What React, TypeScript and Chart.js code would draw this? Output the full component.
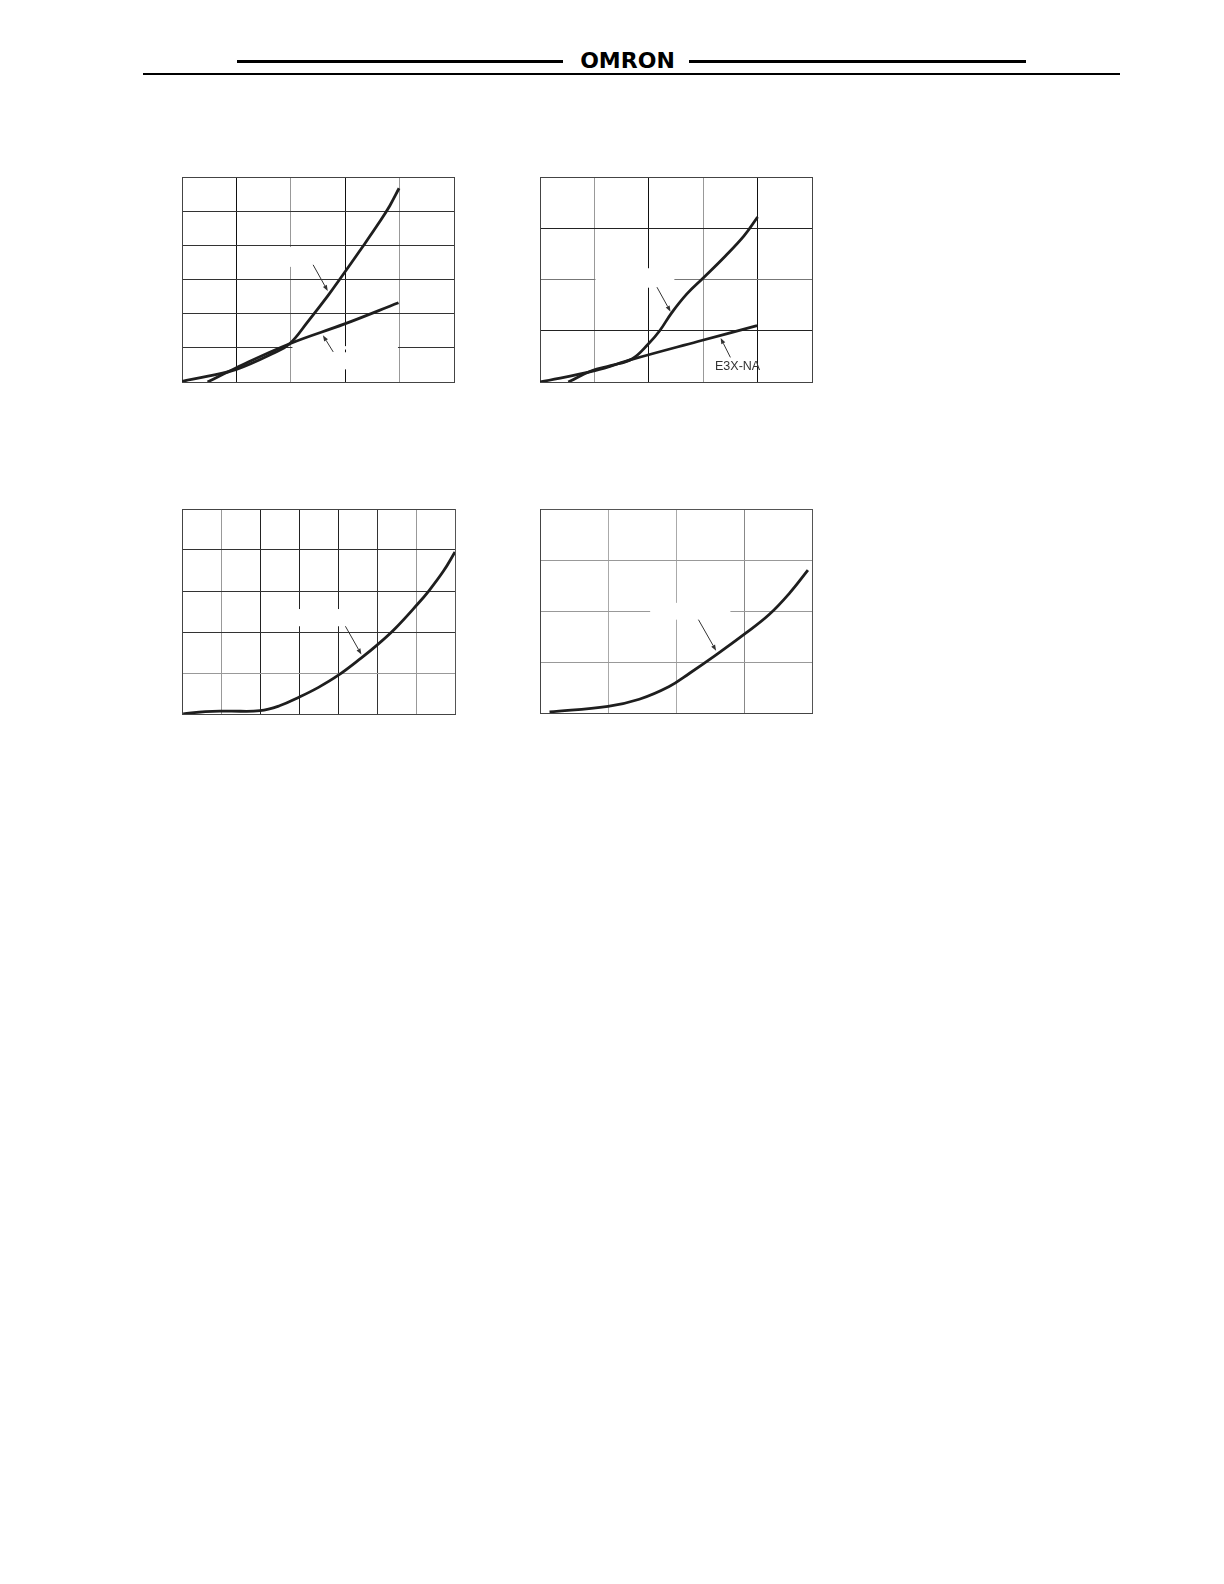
import React, { useEffect, useRef } from "react";
import { Chart, registerables } from "chart.js";
Chart.register(...registerables);

// ---------- Chart 1 (top-left) ----------
const c1XMax = 5;
const c1YMax = 6;
const c1CurveAX = [0, 0.48, 1.0, 1.7, 1.98, 2.31, 2.68, 2.91, 3.33, 3.63, 3.82, 3.99];
const c1CurveAY = [0.02, 0.17, 0.37, 0.86, 1.12, 1.76, 2.52, 3.03, 3.98, 4.68, 5.16, 5.67];
const c1CurveBX = [0.47, 1.0, 1.98, 2.99, 3.98];
const c1CurveBY = [0, 0.42, 1.12, 1.7, 2.32];
const c1VGrid = ["#444", "#111", "#999", "#111", "#999", "#444"];
const c1HGrid = ["#444", "#333", "#333", "#333", "#333", "#333", "#444"];
const c1Gaps = [
  [1.9, 2.1, 3.37, 3.95],
  [2.03, 3.97, 0.95, 1.05],
  [2.9, 3.1, 0.37, 0.87],
];
const c1Arrows = [
  [2.41, 3.43, 2.68, 2.66],
  [2.78, 0.88, 2.59, 1.37],
];

// ---------- Chart 2 (top-right) ----------
const c2XMax = 5;
const c2YMax = 4;
const c2CurveAX = [0.52, 0.95, 1.3, 1.69, 1.99, 2.2, 2.42, 2.7, 3.0, 3.4, 3.75, 4.0];
const c2CurveAY = [0, 0.22, 0.32, 0.45, 0.74, 1.0, 1.35, 1.72, 2.03, 2.45, 2.85, 3.22];
const c2CurveBX = [0, 1.01, 1.69, 2.9, 3.99];
const c2CurveBY = [0, 0.22, 0.44, 0.79, 1.1];
const c2VGrid = ["#444", "#999", "#111", "#999", "#111", "#444"];
const c2HGrid = ["#444", "#222", "#777", "#222", "#444"];
const c2Gaps = [[1.02, 2.47, 1.84, 2.22]];
const c2Arrows = [
  [2.15, 1.85, 2.4, 1.37],
  [3.5, 0.48, 3.32, 0.86],
];
const c2Label = "E3X-NA";

// ---------- Chart 3 (bottom-left) ----------
const c3XMax = 7;
const c3YMax = 5;
const c3CurveX = [0.03, 0.6, 1.2, 2.0, 2.5, 3.0, 3.5, 4.0, 4.6, 5.0, 5.46, 6.06, 6.31, 6.7, 7.0];
const c3CurveY = [0, 0.06, 0.07, 0.08, 0.2, 0.41, 0.65, 0.94, 1.37, 1.68, 2.08, 2.7, 2.98, 3.48, 3.95];
const c3VGrid = ["#444", "#999", "#222", "#222", "#222", "#333", "#999", "#555"];
const c3HGrid = ["#444", "#999", "#333", "#333", "#333", "#444"];
const c3Gaps = [[2.9, 4.1, 2.14, 2.56]];
const c3Arrows = [[4.19, 2.14, 4.6, 1.45]];

// ---------- Chart 4 (bottom-right) ----------
const c4XMax = 4;
const c4YMax = 4;
const c4CurveX = [0.14, 1.0, 1.46, 1.9, 2.2, 2.59, 3.03, 3.37, 3.67, 3.94];
const c4CurveY = [0.02, 0.13, 0.27, 0.52, 0.78, 1.14, 1.57, 1.93, 2.35, 2.8];
const c4VGrid = ["#555", "#aaa", "#aaa", "#888", "#555"];
const c4HGrid = ["#555", "#999", "#999", "#999", "#555"];
const c4Gaps = [[1.62, 2.8, 1.83, 2.16]];
const c4Arrows = [[2.33, 1.83, 2.59, 1.22]];

const PAD = 6;

type Box = { x: number; y: number; w: number; h: number };

function makeConfig(spec: any): any {
  const overlay = {
    id: "overlay",
    beforeDatasetsDraw(chart: any) {
      const { ctx, scales } = chart;
      const sx = scales.x;
      const sy = scales.y;
      ctx.save();
      ctx.fillStyle = "#ffffff";
      for (const g of spec.gaps) {
        const x0 = sx.getPixelForValue(g[0]);
        const x1 = sx.getPixelForValue(g[1]);
        const y0 = sy.getPixelForValue(g[3]);
        const y1 = sy.getPixelForValue(g[2]);
        ctx.fillRect(x0, y0, x1 - x0, y1 - y0);
      }
      ctx.restore();
    },
    afterDatasetsDraw(chart: any) {
      const { ctx, scales } = chart;
      const sx = scales.x;
      const sy = scales.y;
      ctx.save();
      ctx.strokeStyle = "#333";
      ctx.fillStyle = "#333";
      ctx.lineWidth = 1;
      for (const a of spec.arrows) {
        const x0 = sx.getPixelForValue(a[0]);
        const y0 = sy.getPixelForValue(a[1]);
        const x1 = sx.getPixelForValue(a[2]);
        const y1 = sy.getPixelForValue(a[3]);
        const ang = Math.atan2(y1 - y0, x1 - x0);
        const L = 6;
        const Wd = 2.2;
        const bx = x1 - L * Math.cos(ang);
        const by = y1 - L * Math.sin(ang);
        ctx.beginPath();
        ctx.moveTo(x0, y0);
        ctx.lineTo(bx, by);
        ctx.stroke();
        ctx.beginPath();
        ctx.moveTo(x1, y1);
        ctx.lineTo(bx + Wd * Math.sin(ang), by - Wd * Math.cos(ang));
        ctx.lineTo(bx - Wd * Math.sin(ang), by + Wd * Math.cos(ang));
        ctx.closePath();
        ctx.fill();
      }
      ctx.restore();
    },
  };

  return {
    type: "line",
    data: {
      datasets: spec.series.map((s: any) => ({
        data: s.xs.map((x: number, i: number) => ({ x, y: s.ys[i] })),
        borderColor: "#1e1e1e",
        borderWidth: 2.8,
        pointRadius: 0,
        fill: false,
        tension: 0.4,
      })),
    },
    options: {
      responsive: false,
      animation: false,
      devicePixelRatio: 1,
      layout: { padding: PAD },
      plugins: { legend: { display: false }, tooltip: { enabled: false } },
      scales: {
        x: {
          type: "linear",
          min: 0,
          max: spec.xMax,
          ticks: { display: false, stepSize: 1 },
          grid: {
            drawTicks: false,
            lineWidth: 1,
            color: (c: any) => spec.vGrid[c.index] || "#444",
          },
          border: { color: "#444", width: 1 },
        },
        y: {
          type: "linear",
          min: 0,
          max: spec.yMax,
          ticks: { display: false, stepSize: 1 },
          grid: {
            drawTicks: false,
            lineWidth: 1,
            color: (c: any) => spec.hGrid[c.index] || "#444",
          },
          border: { color: "#444", width: 1 },
        },
      },
    },
    plugins: [overlay],
  };
}

function PlotCanvas({ box, spec }: { box: Box; spec: any }) {
  const ref = useRef<HTMLCanvasElement>(null);
  useEffect(() => {
    const chart = new Chart(ref.current as HTMLCanvasElement, makeConfig(spec));
    return () => chart.destroy();
  }, []);
  const w = box.w + 2 * PAD;
  const h = box.h + 2 * PAD;
  return (
    <canvas
      ref={ref}
      width={w}
      height={h}
      style={{ position: "absolute", left: box.x - PAD, top: box.y - PAD, width: w, height: h }}
    />
  );
}

const spec1 = {
  xMax: c1XMax,
  yMax: c1YMax,
  series: [
    { xs: c1CurveAX, ys: c1CurveAY },
    { xs: c1CurveBX, ys: c1CurveBY },
  ],
  vGrid: c1VGrid,
  hGrid: c1HGrid,
  gaps: c1Gaps,
  arrows: c1Arrows,
};
const spec2 = {
  xMax: c2XMax,
  yMax: c2YMax,
  series: [
    { xs: c2CurveAX, ys: c2CurveAY },
    { xs: c2CurveBX, ys: c2CurveBY },
  ],
  vGrid: c2VGrid,
  hGrid: c2HGrid,
  gaps: c2Gaps,
  arrows: c2Arrows,
};
const spec3 = {
  xMax: c3XMax,
  yMax: c3YMax,
  series: [{ xs: c3CurveX, ys: c3CurveY }],
  vGrid: c3VGrid,
  hGrid: c3HGrid,
  gaps: c3Gaps,
  arrows: c3Arrows,
};
const spec4 = {
  xMax: c4XMax,
  yMax: c4YMax,
  series: [{ xs: c4CurveX, ys: c4CurveY }],
  vGrid: c4VGrid,
  hGrid: c4HGrid,
  gaps: c4Gaps,
  arrows: c4Arrows,
};

export default function App() {
  return (
    <div
      style={{
        position: "absolute",
        left: 0,
        top: 0,
        width: 1224,
        height: 1584,
        background: "#fff",
        overflow: "hidden",
      }}
    >
      {/* header */}
      <div style={{ position: "absolute", left: 237, top: 60, width: 326, height: 3, background: "#000" }} />
      <div style={{ position: "absolute", left: 689, top: 60, width: 337, height: 3, background: "#000" }} />
      <div style={{ position: "absolute", left: 143, top: 73, width: 977, height: 2, background: "#000" }} />
      <div
        style={{
          position: "absolute",
          left: 627.5,
          top: 50,
          transform: "translateX(-50%)",
          fontFamily: "'DejaVu Sans', sans-serif",
          fontWeight: 700,
          fontSize: 22,
          lineHeight: "22px",
          color: "#000",
          whiteSpace: "nowrap",
        }}
      >
        OMRON
      </div>

      <PlotCanvas box={{ x: 182, y: 177, w: 272, h: 205 }} spec={spec1} />
      <PlotCanvas box={{ x: 540, y: 177, w: 272, h: 205 }} spec={spec2} />
      <PlotCanvas box={{ x: 182, y: 509, w: 273, h: 205 }} spec={spec3} />
      <PlotCanvas box={{ x: 540, y: 509, w: 272, h: 204 }} spec={spec4} />

      <div
        style={{
          position: "absolute",
          left: 715,
          top: 360,
          fontFamily: "'Liberation Sans', Arial, sans-serif",
          fontSize: 12.5,
          lineHeight: "13px",
          color: "#333",
          whiteSpace: "nowrap",
        }}
      >
        {c2Label}
      </div>
    </div>
  );
}
